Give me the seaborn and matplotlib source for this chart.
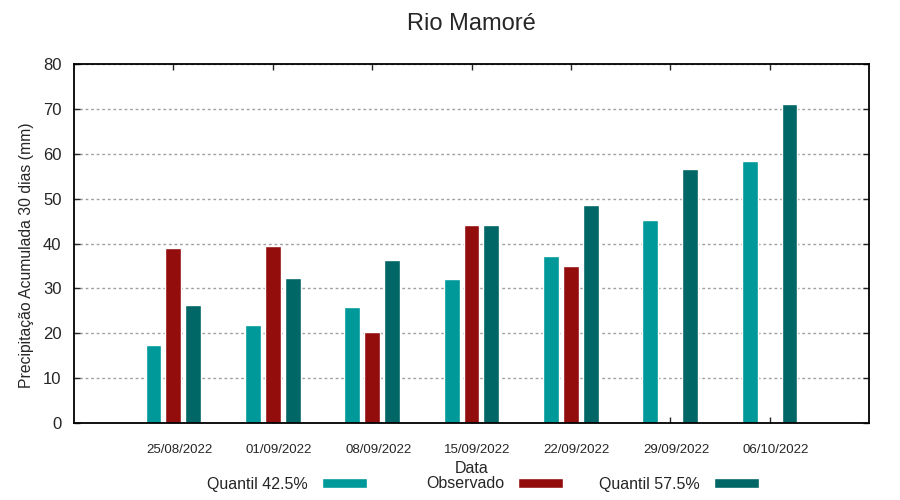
import numpy as np
import pandas as pd
import matplotlib
matplotlib.use("Agg")
import matplotlib.pyplot as plt
import matplotlib.transforms as mtransforms
import seaborn as sns

# Data
dates = ["25/08/2022", "01/09/2022", "08/09/2022", "15/09/2022",
         "22/09/2022", "29/09/2022", "06/10/2022"]
quantil_425 = [17.4, 21.8, 25.9, 32.1, 37.2, 45.2, 58.4]
observado = [39.0, 39.4, 20.3, 44.1, 35.0, np.nan, np.nan]
quantil_575 = [26.3, 32.3, 36.3, 44.1, 48.6, 56.6, 71.1]

series_names = ["Quantil 42.5%", "Observado", "Quantil 57.5%"]
colors = ["#009999", "#940d0d", "#006666"]

df = pd.DataFrame({"Data": dates,
                   series_names[0]: quantil_425,
                   series_names[1]: observado,
                   series_names[2]: quantil_575})
df = df.melt(id_vars="Data", var_name="Serie", value_name="Valor").dropna()

sns.set_style("white")
plt.rcParams['font.family'] = ['Liberation Sans', 'DejaVu Sans']

fig = plt.figure(figsize=(9, 5), dpi=100)
ax = fig.add_axes([74/900, 77/500, 795/900, 359/500])

sns.barplot(data=df, x="Data", y="Valor", hue="Serie", order=dates,
            hue_order=series_names, palette=colors, width=0.6, gap=0.2,
            errorbar=None, saturation=1, ax=ax)

ax.set_xlim(-1, 7)
ax.set_ylim(0, 80)
ax.set_yticks(range(0, 81, 10))
ax.yaxis.grid(True, linestyle=(0, (2, 2)), color='#a0a0a0', linewidth=1)
ax.set_axisbelow(True)

for s in ax.spines.values():
    s.set_visible(True)
    s.set_color('black')
    s.set_linewidth(1.3)

ax.tick_params(axis='x', direction='in', length=4, width=1, top=True,
               bottom=True, labelsize=9.5, pad=15)
ax.tick_params(axis='y', direction='in', length=4, width=1, left=True,
               right=True, labelsize=12, pad=9)
# gnuplot-like slight right shift of date labels
offset = mtransforms.ScaledTranslation(6/100, 0, fig.dpi_scale_trans)
for lbl in ax.get_xticklabels():
    lbl.set_transform(lbl.get_transform() + offset)

ax.set_xlabel("Data", fontsize=11.5, labelpad=4)
ax.set_ylabel("Precipitação Acumulada 30 dias (mm)", fontsize=11.3)
ax.yaxis.set_label_coords(-0.05, 0.468)

fig.text(471.5/900, 1 - 24/500, "Rio Mamoré", fontsize=17,
         ha='center', va='center')

# gnuplot style key: fixed-pitch columns, text right-aligned before the box
handles, labels = ax.get_legend_handles_labels()
ax.get_legend().remove()
key_right = [367, 563, 759]
for i, (h, l, xr) in enumerate(zip(handles, labels, key_right)):
    leg = ax.legend([h], [l], loc='center right',
                    bbox_to_anchor=(xr/900, 1 - 484/500),
                    bbox_transform=fig.transFigure, frameon=False,
                    markerfirst=False, fontsize=11.5, handlelength=2.8,
                    handleheight=0.55, handletextpad=0.9,
                    borderpad=0, borderaxespad=0)
    if i < len(handles) - 1:
        ax.add_artist(leg)

fig.savefig("out.png", dpi=100)
